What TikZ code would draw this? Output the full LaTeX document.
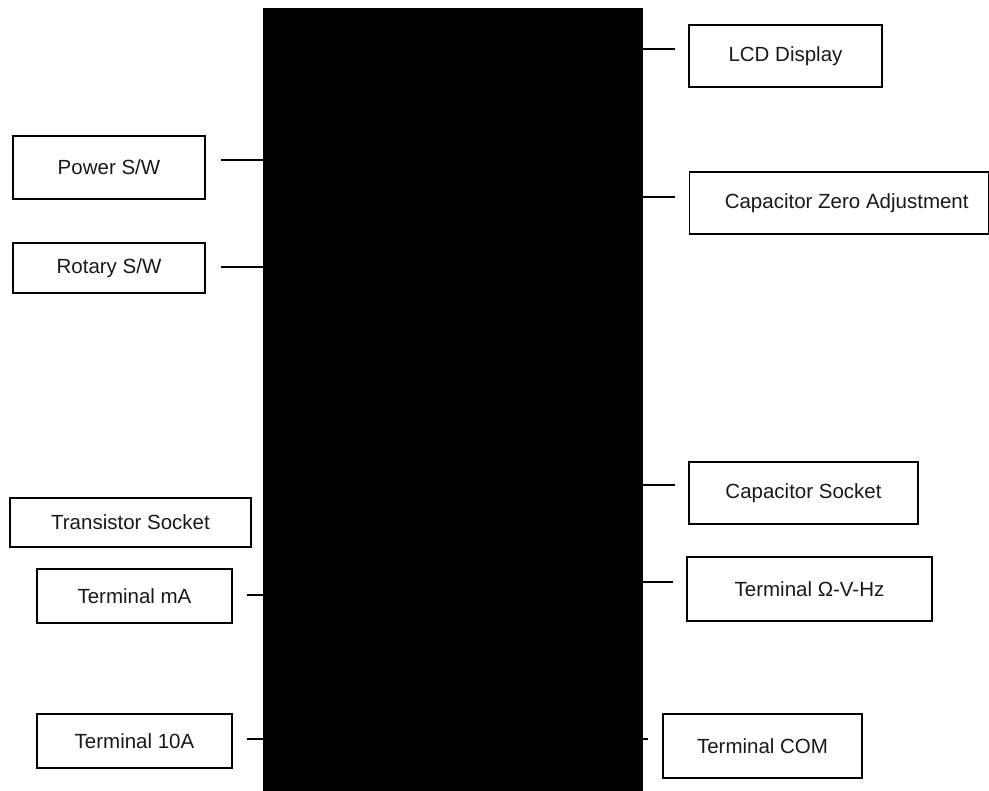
\documentclass[tikz,border=0pt]{standalone}
\usepackage{fontspec}
\setmainfont{Liberation Sans}
\begin{document}
\begin{tikzpicture}[x=1pt,y=-1pt,
  partbox/.style={draw, line width=1.2pt, rectangle, inner sep=0pt,
    font=\fontsize{20.5}{24}\selectfont, text=black!90},
  lead/.style={line width=1.2pt}]
\useasboundingbox (0,0) rectangle (989,791);

% instrument body
\node[fill=black, draw=none, minimum width=380pt, minimum height=783pt, inner sep=0pt]
  (body) at (452.7,399.5) {};

% left-hand labels
\node[partbox, minimum width=192pt, minimum height=63pt] (pw) at (109,167.5) {Power S/W};
\node[partbox, minimum width=192pt, minimum height=50pt] (ro) at (109,268) {Rotary S/W};
\node[partbox, minimum width=241pt, minimum height=49pt] (ts) at (130.5,522.5) {Transistor Socket};
\node[partbox, minimum width=195pt, minimum height=54pt] (ma) at (134.5,596) {Terminal mA};
\node[partbox, minimum width=195pt, minimum height=54pt] (ta) at (134.5,741) {Terminal 10A};

% right-hand labels
\node[partbox, minimum width=193pt, minimum height=62pt] (lcd) at (785.5,56) {LCD Display};
\node[partbox, minimum width=299pt, minimum height=62pt] (cza) at (838.7,203) {\hspace*{16pt}Capacitor Zero Adjustment};
\node[partbox, minimum width=229pt, minimum height=62pt] (cs) at (803.5,493) {Capacitor Socket};
\node[partbox, minimum width=245pt, minimum height=64pt] (ohm) at (809.5,589) {Terminal Ω-V-Hz};
\node[partbox, minimum width=199pt, minimum height=64pt] (com) at (762.5,746) {Terminal COM};

% free ends of the leader lines
\coordinate (pw-l) at (221,160);
\coordinate (ro-l) at (221,267);
\coordinate (ma-l) at (247,595);
\coordinate (ta-l) at (247,739);
\coordinate (lcd-l) at (675,49);
\coordinate (cza-l) at (675,197);
\coordinate (cs-l) at (675,485);
\coordinate (ohm-l) at (673,582);
\coordinate (com-l) at (648,739);

% leader lines to the body
\foreach \c in {pw-l,ro-l,ma-l,ta-l}
  \draw[lead] (\c) -- (\c -| body.west);
\foreach \c in {lcd-l,cza-l,cs-l,ohm-l,com-l}
  \draw[lead] (\c) -- (\c -| body.east);
\end{tikzpicture}
\end{document}
